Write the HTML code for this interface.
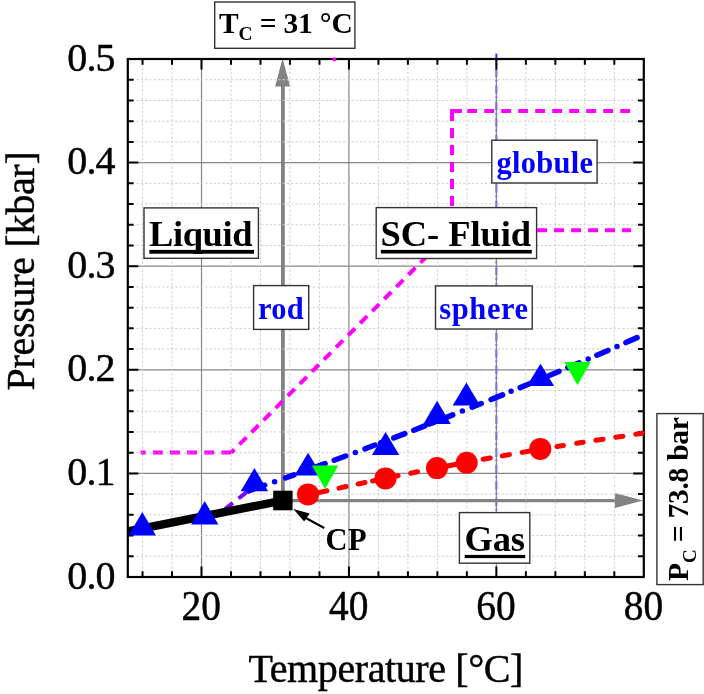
<!DOCTYPE html>
<html><head><meta charset="utf-8"><style>
html,body{margin:0;padding:0;background:#fff;}
svg{display:block;will-change:transform;}
text[font-weight="normal"]{stroke:#000;stroke-width:0.45px;stroke-linejoin:round;}
</style></head><body>
<svg width="704" height="694" viewBox="0 0 704 694">
<defs><clipPath id="pc"><rect x="127.8" y="59" width="516" height="518"/></clipPath></defs>
<rect width="704" height="694" fill="#fff"/>
<path d="M201.51 59.00V577.00 M348.94 59.00V577.00 M496.37 59.00V577.00 M127.80 473.40H643.80 M127.80 369.80H643.80 M127.80 266.20H643.80 M127.80 162.60H643.80" stroke="#858585" stroke-width="1.2" fill="none"/>
<rect x="495.4" y="53.6" width="1.9" height="5.6" fill="#2a2aff"/>
<path d="M496.37 59.00V513" stroke="#7878d6" stroke-width="2.2" stroke-dasharray="8.6 2.8 1.6 3.5" stroke-dashoffset="6.8" fill="none"/>
<path d="M282.9 500.5V86" stroke="#828282" stroke-width="3.8" fill="none"/>
<path d="M282.6 58.2L275.1 86.6H290.1Z" fill="#828282"/>
<path d="M282.9 500.6H615.5" stroke="#828282" stroke-width="3.4" fill="none"/>
<path d="M643 500.5L614.9 493.1V507.9Z" fill="#828282"/>
<path d="M142.54 59.00V577.00 M172.03 59.00V577.00 M231.00 59.00V577.00 M260.49 59.00V577.00 M289.97 59.00V577.00 M319.46 59.00V577.00 M378.43 59.00V577.00 M407.91 59.00V577.00 M437.40 59.00V577.00 M466.88 59.00V577.00 M525.86 59.00V577.00 M555.34 59.00V577.00 M584.83 59.00V577.00 M614.31 59.00V577.00 M127.80 556.28H643.80 M127.80 535.56H643.80 M127.80 514.84H643.80 M127.80 494.12H643.80 M127.80 452.68H643.80 M127.80 431.96H643.80 M127.80 411.24H643.80 M127.80 390.52H643.80 M127.80 349.08H643.80 M127.80 328.36H643.80 M127.80 307.64H643.80 M127.80 286.92H643.80 M127.80 245.48H643.80 M127.80 224.76H643.80 M127.80 204.04H643.80 M127.80 183.32H643.80 M127.80 141.88H643.80 M127.80 121.16H643.80 M127.80 100.44H643.80 M127.80 79.72H643.80" stroke="#cfcfcf" stroke-width="1" stroke-dasharray="2.4 1.9" fill="none"/>
<path d="M140.6 452.5H231.6" stroke="#ff00ff" stroke-width="4.2" stroke-dasharray="9.9 7.2" stroke-dashoffset="4.8" fill="none"/>
<path d="M127.80 452.68H250" stroke="#cfcfcf" stroke-opacity="0.55" stroke-width="1" stroke-dasharray="2.4 1.9" fill="none"/>
<path d="M231.4 452.5L452 231" stroke="#ff00ff" stroke-width="4.0" stroke-dasharray="9.9 7.2" stroke-dashoffset="5.65" fill="none"/>
<path d="M452 111.1V230.8" stroke="#ff00ff" stroke-width="4.0" stroke-dasharray="9.9 7.1" stroke-dashoffset="0.1" fill="none"/>
<path d="M450.2 111.1H632" stroke="#ff00ff" stroke-width="4.0" stroke-dasharray="11.7 5.3 9.9 7.1 9.9 7.1 9.9 7.1 9.9 7.1 9.9 7.1 9.9 7.1 9.9 7.1 9.9 7.1 9.9 7.1 9.9 7.1 9.9 7.1" fill="none"/>
<path d="M452 230.2H631" stroke="#ff00ff" stroke-width="4.0" stroke-dasharray="9.9 7.1" stroke-dashoffset="-0.1" fill="none"/>
<path d="M225.1 509L262 480.2" stroke="#8000ff" stroke-width="4" stroke-dasharray="9.9 7.2" fill="none"/>
<rect x="127.80" y="59.00" width="516.00" height="518.00" fill="none" stroke="#000" stroke-width="2.2"/>
<path d="M142.54 577.00v-5.8M142.54 59.00v5.8M172.03 577.00v-5.8M172.03 59.00v5.8M201.51 577.00v-10.5M201.51 59.00v10.5M231.00 577.00v-5.8M231.00 59.00v5.8M260.49 577.00v-5.8M260.49 59.00v5.8M289.97 577.00v-5.8M289.97 59.00v5.8M319.46 577.00v-5.8M319.46 59.00v5.8M348.94 577.00v-10.5M348.94 59.00v10.5M378.43 577.00v-5.8M378.43 59.00v5.8M407.91 577.00v-5.8M407.91 59.00v5.8M437.40 577.00v-5.8M437.40 59.00v5.8M466.88 577.00v-5.8M466.88 59.00v5.8M496.37 577.00v-10.5M496.37 59.00v10.5M525.86 577.00v-5.8M525.86 59.00v5.8M555.34 577.00v-5.8M555.34 59.00v5.8M584.83 577.00v-5.8M584.83 59.00v5.8M614.31 577.00v-5.8M614.31 59.00v5.8M127.80 556.28h5.8M643.80 556.28h-5.8M127.80 535.56h5.8M643.80 535.56h-5.8M127.80 514.84h5.8M643.80 514.84h-5.8M127.80 494.12h5.8M643.80 494.12h-5.8M127.80 473.40h10.5M643.80 473.40h-10.5M127.80 452.68h5.8M643.80 452.68h-5.8M127.80 431.96h5.8M643.80 431.96h-5.8M127.80 411.24h5.8M643.80 411.24h-5.8M127.80 390.52h5.8M643.80 390.52h-5.8M127.80 369.80h10.5M643.80 369.80h-10.5M127.80 349.08h5.8M643.80 349.08h-5.8M127.80 328.36h5.8M643.80 328.36h-5.8M127.80 307.64h5.8M643.80 307.64h-5.8M127.80 286.92h5.8M643.80 286.92h-5.8M127.80 266.20h10.5M643.80 266.20h-10.5M127.80 245.48h5.8M643.80 245.48h-5.8M127.80 224.76h5.8M643.80 224.76h-5.8M127.80 204.04h5.8M643.80 204.04h-5.8M127.80 183.32h5.8M643.80 183.32h-5.8M127.80 162.60h10.5M643.80 162.60h-10.5M127.80 141.88h5.8M643.80 141.88h-5.8M127.80 121.16h5.8M643.80 121.16h-5.8M127.80 100.44h5.8M643.80 100.44h-5.8M127.80 79.72h5.8M643.80 79.72h-5.8" stroke="#000" stroke-width="2" fill="none"/>
<path d="M127.80 531.3L282.9 500.5" stroke="#000" stroke-width="8.4" fill="none"/>
<path d="M316.44 493.07Q321.70 491.90 326.96 490.74M339.04 488.10Q342.60 487.33 346.16 486.56M358.15 484.00Q361.60 483.27 365.05 482.54M372.55 480.97Q376.05 480.23 379.55 479.51M390.45 477.26Q394.30 476.48 398.15 475.69M410.65 473.18Q414.10 472.49 417.55 471.81M446.46 466.18Q452.00 465.12 457.54 464.07M468.46 462.03Q471.00 461.55 473.54 461.08M483.16 459.32Q486.70 458.67 490.24 458.03M502.26 455.88Q505.85 455.24 509.44 454.61M522.16 452.38Q525.35 451.83 528.54 451.28M556.97 446.50Q560.20 445.97 563.43 445.44M576.67 443.30Q579.95 442.78 583.23 442.26M595.87 440.27Q599.45 439.72 603.03 439.17M615.67 437.24Q619.25 436.70 622.83 436.17M635.77 434.26Q638.95 433.79 642.13 433.34" stroke="#ff0000" stroke-width="5.0" stroke-linecap="round" fill="none"/>
<path d="M248.60 490.84Q256.65 488.05 264.71 485.22M285.59 477.84Q289.80 476.34 294.01 474.84M302.59 471.76Q305.00 470.89 307.41 470.02M314.59 467.42Q319.85 465.51 325.12 463.58M334.18 460.26Q339.95 458.14 345.72 456.00M364.98 448.82Q370.00 446.93 375.03 445.03M380.57 442.93Q383.00 442.01 385.43 441.09M393.77 437.91Q399.30 435.79 404.83 433.66M413.76 430.21Q419.30 428.07 424.84 425.91M429.56 424.06Q432.00 423.11 434.44 422.15M442.86 418.84Q447.80 416.89 452.74 414.93M472.05 407.23Q476.65 405.38 481.25 403.52M491.05 399.55Q496.80 397.22 502.56 394.87M520.14 387.64Q525.80 385.30 531.46 382.94M539.54 379.57Q541.00 378.96 542.46 378.35M549.24 375.51Q554.10 373.46 558.97 371.41M567.83 367.65Q573.50 365.24 579.17 362.82M596.83 355.23Q602.40 352.82 607.98 350.40M625.92 342.56Q631.50 340.11 637.09 337.64" stroke="#0000ff" stroke-width="5.5" stroke-linecap="round" fill="none"/>
<circle cx="274.60" cy="481.74" r="2.75" fill="#0000ff"/>
<circle cx="355.40" cy="452.40" r="2.75" fill="#0000ff"/>
<circle cx="462.40" cy="411.09" r="2.75" fill="#0000ff"/>
<circle cx="511.10" cy="391.36" r="2.75" fill="#0000ff"/>
<circle cx="588.20" cy="358.95" r="2.75" fill="#0000ff"/>
<circle cx="617.00" cy="346.47" r="2.75" fill="#0000ff"/>
<circle cx="308" cy="494.4" r="11" fill="#ff0000"/>
<circle cx="385.5" cy="478.4" r="11" fill="#ff0000"/>
<circle cx="437" cy="468.1" r="11" fill="#ff0000"/>
<circle cx="466.7" cy="462.7" r="11" fill="#ff0000"/>
<circle cx="540.3" cy="448.9" r="11" fill="#ff0000"/>
<path d="M142.30 512.10L156.00 535.60H128.60Z" fill="#0000ff"/>
<path d="M204.70 501.10L218.40 524.40H191.00Z" fill="#0000ff"/>
<path d="M254.40 468.10L268.10 491.20H240.70Z" fill="#0000ff"/>
<path d="M308.10 452.80L321.80 475.60H294.40Z" fill="#0000ff"/>
<path d="M385.60 432.00L399.30 455.00H371.90Z" fill="#0000ff"/>
<path d="M437.10 400.80L450.80 424.00H423.40Z" fill="#0000ff"/>
<path d="M466.40 382.60L480.10 405.60H452.70Z" fill="#0000ff"/>
<path d="M540.50 363.80L554.20 386.10H526.80Z" fill="#0000ff"/>
<path d="M311.90 465.60H338.30L325.10 489.00Z" fill="#00ff00"/>
<path d="M564.30 362.10H590.70L577.50 385.20Z" fill="#00ff00"/>
<rect x="273.2" y="490.7" width="19.4" height="19.6" fill="#000"/>
<rect x="144.0" y="207.9" width="114.40" height="50.40" fill="#fff" stroke="#333" stroke-width="1.4"/>
<text x="149.00" y="245.80" font-family='"Liberation Serif", serif' font-size="36.5" font-weight="bold" fill="#000" textLength="103.53" lengthAdjust="spacing">Liquid</text>
<rect x="149.4" y="249.9" width="104.7" height="3.8" fill="#000"/>
<rect x="376.2" y="207.6" width="160.40" height="50.90" fill="#fff" stroke="#333" stroke-width="1.4"/>
<text x="380.50" y="246.40" font-family='"Liberation Serif", serif' font-size="36.5" font-weight="bold" fill="#000" textLength="150.62" lengthAdjust="spacing">SC- Fluid</text>
<rect x="380.9" y="249.9" width="150.9" height="3.6" fill="#000"/>
<rect x="253.6" y="285.6" width="55.10" height="43.80" fill="#fff" stroke="#333" stroke-width="1.4"/>
<text x="258.00" y="318.80" font-family='"Liberation Serif", serif' font-size="30.5" font-weight="bold" fill="#0000ff" textLength="45.70" lengthAdjust="spacing">rod</text>
<rect x="435.5" y="285.9" width="96.70" height="43.10" fill="#fff" stroke="#333" stroke-width="1.4"/>
<text x="439.30" y="318.90" font-family='"Liberation Serif", serif' font-size="30.5" font-weight="bold" fill="#0000ff" textLength="88.86" lengthAdjust="spacing">sphere</text>
<rect x="491.8" y="140.2" width="105.30" height="42.80" fill="#fff" stroke="#333" stroke-width="1.4"/>
<text x="496.60" y="172.80" font-family='"Liberation Serif", serif' font-size="30.5" font-weight="bold" fill="#0000ff" textLength="96.42" lengthAdjust="spacing">globule</text>
<rect x="459.4" y="512.6" width="70.40" height="50.60" fill="#fff" stroke="#333" stroke-width="1.4"/>
<text x="464.50" y="550.50" font-family='"Liberation Serif", serif' font-size="36.5" font-weight="bold" fill="#000" textLength="60.36" lengthAdjust="spacing">Gas</text>
<rect x="464.7" y="554.9" width="60.5" height="3.2" fill="#000"/>
<text x="325.50" y="549.70" font-family='"Liberation Serif", serif' font-size="30.5" font-weight="bold" fill="#000" textLength="41.17" lengthAdjust="spacing">CP</text>
<path d="M324.2 528L304 517" stroke="#000" stroke-width="2" fill="none"/>
<path d="M293.3 509.1L309.6 513.6L304.2 521.6Z" fill="#000"/>
<rect x="332.6" y="57.5" width="3.7" height="3.8" rx="1" fill="#ff00ff"/>
<text x="0" y="0" font-family='"Liberation Serif", serif' font-size="40" font-weight="normal" fill="#000" text-anchor="middle" transform="translate(201.21 620) scale(0.985 1.035)">20</text>
<text x="0" y="0" font-family='"Liberation Serif", serif' font-size="40" font-weight="normal" fill="#000" text-anchor="middle" transform="translate(348.64 620) scale(0.985 1.035)">40</text>
<text x="0" y="0" font-family='"Liberation Serif", serif' font-size="40" font-weight="normal" fill="#000" text-anchor="middle" transform="translate(496.07 620) scale(0.985 1.035)">60</text>
<text x="0" y="0" font-family='"Liberation Serif", serif' font-size="40" font-weight="normal" fill="#000" text-anchor="middle" transform="translate(643.50 620) scale(0.985 1.035)">80</text>
<text x="115.5" y="588.50" font-family='"Liberation Serif", serif' font-size="40" font-weight="normal" fill="#000" text-anchor="end" textLength="48.2" lengthAdjust="spacing">0.0</text>
<text x="115.5" y="484.90" font-family='"Liberation Serif", serif' font-size="40" font-weight="normal" fill="#000" text-anchor="end" textLength="48.2" lengthAdjust="spacing">0.1</text>
<text x="115.5" y="381.30" font-family='"Liberation Serif", serif' font-size="40" font-weight="normal" fill="#000" text-anchor="end" textLength="48.2" lengthAdjust="spacing">0.2</text>
<text x="115.5" y="277.70" font-family='"Liberation Serif", serif' font-size="40" font-weight="normal" fill="#000" text-anchor="end" textLength="48.2" lengthAdjust="spacing">0.3</text>
<text x="115.5" y="174.10" font-family='"Liberation Serif", serif' font-size="40" font-weight="normal" fill="#000" text-anchor="end" textLength="48.2" lengthAdjust="spacing">0.4</text>
<text x="115.5" y="70.50" font-family='"Liberation Serif", serif' font-size="40" font-weight="normal" fill="#000" text-anchor="end" textLength="48.2" lengthAdjust="spacing">0.5</text>
<text x="248.50" y="682.00" font-family='"Liberation Serif", serif' font-size="40" font-weight="normal" fill="#000" textLength="274.84" lengthAdjust="spacing">Temperature [°C]</text>
<text transform="translate(34.20 390.50) rotate(-90)" font-family='"Liberation Serif", serif' font-size="40" font-weight="normal" fill="#000" textLength="239.25" lengthAdjust="spacing">Pressure [kbar]</text>
<rect x="214.7" y="2.0" width="140.20" height="46.30" fill="#fff" stroke="#333" stroke-width="1.4"/>
<text x="219.00" y="33.00" font-family='"Liberation Serif", serif' font-size="29.5" font-weight="bold" fill="#000" textLength="133.83" lengthAdjust="spacing">T<tspan font-size="19.5" dy="6.8">C</tspan><tspan dy="-6.8"> = 31 °C</tspan></text>
<rect x="656.9" y="413.6" width="46.30" height="171.00" fill="#fff" stroke="#333" stroke-width="1.4"/>
<text transform="translate(688.00 581.00) rotate(-90)" font-family='"Liberation Serif", serif' font-size="29.5" font-weight="bold" fill="#000" textLength="163.94" lengthAdjust="spacing">P<tspan font-size="19.5" dy="7.8">C</tspan><tspan dy="-7.8"> = 73.8 bar</tspan></text>
</svg>
</body></html>
